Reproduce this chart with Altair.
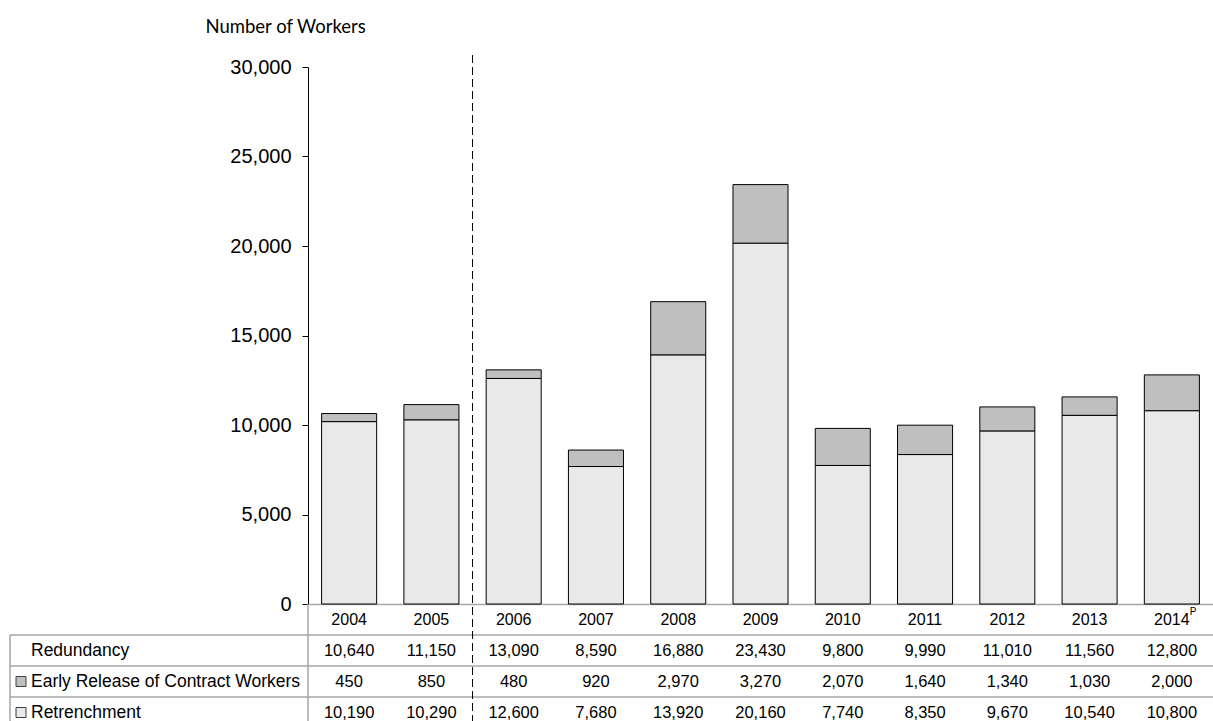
import altair as alt
import pandas as pd

years = ["2004", "2005", "2006", "2007", "2008", "2009", "2010", "2011", "2012", "2013", "2014"]
redundancy = [10640, 11150, 13090, 8590, 16880, 23430, 9800, 9990, 11010, 11560, 12800]
early_release = [450, 850, 480, 920, 2970, 3270, 2070, 1640, 1340, 1030, 2000]
retrenchment = [10190, 10290, 12600, 7680, 13920, 20160, 7740, 8350, 9670, 10540, 10800]
break_before_year = "2006"  # dashed separator sits between 2005 and 2006

ROW_YEAR = "Year"
ROW_RED = "Redundancy"
ROW_EARLY = "Early Release of Contract Workers"
ROW_RET = "Retrenchment"
row_keys = [ROW_YEAR, ROW_RED, ROW_EARLY, ROW_RET]

W, H = 905, 537
FONT = "Liberation Sans"

# ---- data frames ----
bars_df = pd.DataFrame(
    [{"year": y, "type": ROW_RET, "value": r, "order": 0} for y, r in zip(years, retrenchment)]
    + [{"year": y, "type": ROW_EARLY, "value": e, "order": 1} for y, e in zip(years, early_release)]
)

cells_df = pd.DataFrame(
    [{"year": y, "row": ROW_RED, "value": v} for y, v in zip(years, redundancy)]
    + [{"year": y, "row": ROW_EARLY, "value": v} for y, v in zip(years, early_release)]
    + [{"year": y, "row": ROW_RET, "value": v} for y, v in zip(years, retrenchment)]
)
year_df = pd.DataFrame({"year": years, "row": ROW_YEAR})
sup_df = pd.DataFrame({"year": [years[-1]], "row": [ROW_YEAR], "txt": ["P"]})
rowlab_df = pd.DataFrame({"row": [ROW_RED, ROW_EARLY, ROW_RET]})
legend_df = pd.DataFrame({"row": [ROW_EARLY, ROW_RET], "type": [ROW_EARLY, ROW_RET]})
hline_df = pd.DataFrame({"row": [ROW_RED, ROW_EARLY, ROW_RET]})
dash_df = pd.DataFrame({"pos": [years.index(break_before_year)]})

fill_scale = alt.Scale(domain=[ROW_EARLY, ROW_RET], range=["#bfbfbf", "#e9e9e9"])


def x_scale():
    return alt.Scale(domain=years, paddingInner=0.331, paddingOuter=0.1655)


def row_scale():
    return alt.Scale(type="band", domain=row_keys, range=[H, H + 124], paddingInner=0, paddingOuter=0)


def XY(axis=None):
    return alt.X("year:N", scale=x_scale(), axis=axis)


def YR(**kw):
    return alt.Y("row:N", scale=row_scale(), axis=None, **kw)


bars = alt.Chart(bars_df).mark_bar(stroke="black", strokeWidth=1).encode(
    x=XY(alt.Axis(labels=False, ticks=False, title=None, grid=False,
                  domainColor="#a6a6a6", domainWidth=1.5)),
    y=alt.Y(
        "value:Q",
        stack="zero",
        scale=alt.Scale(domain=[0, 30000], nice=False),
        axis=alt.Axis(
            values=[0, 5000, 10000, 15000, 20000, 25000, 30000],
            format=",.0f",
            grid=False,
            tickSize=6,
            tickColor="black",
            domainColor="black",
            labelFont=FONT,
            labelFontSize=20,
            labelColor="black",
            labelPadding=11,
            title="Number of Workers",
            titleAngle=0,
            titleAlign="left",
            titleBaseline="middle",
            titleX=-103,
            titleY=-41,
            titleFont="Lato",
            titleFontSize=18.5,
            titleFontWeight="normal",
            titleColor="black",
        ),
    ),
    fill=alt.Fill("type:N", scale=fill_scale, legend=None),
    order=alt.Order("order:Q"),
)

cells = alt.Chart(cells_df).mark_text(font=FONT, fontSize=16.5, color="black", fill="black").encode(
    x=XY(),
    y=YR(),
    text=alt.Text("value:Q", format=",.0f"),
)

year_text = alt.Chart(year_df).mark_text(font=FONT, fontSize=16, color="black", fill="black").encode(
    x=XY(),
    y=YR(),
    text="year:N",
)

sup_text = alt.Chart(sup_df).mark_text(font=FONT, fontSize=10, color="black", fill="black",
                                       align="left", dx=18, dy=-8).encode(
    x=XY(),
    y=YR(),
    text="txt:N",
)

row_labels = alt.Chart(rowlab_df).mark_text(font=FONT, fontSize=17.5, color="black", fill="black",
                                            align="left").encode(
    x=alt.value(-277),
    y=YR(),
    text="row:N",
)

legend_sq = alt.Chart(legend_df).mark_point(shape="square", size=100, filled=True, stroke="#404040",
                                             strokeWidth=1, opacity=1).encode(
    x=alt.value(-287),
    y=YR(),
    fill=alt.Fill("type:N", scale=fill_scale, legend=None),
)

hlines = alt.Chart(hline_df).mark_rule(color="#a6a6a6", strokeWidth=1.5).encode(
    x=alt.value(-298),
    x2=alt.value(W),
    y=YR(bandPosition=0),
)

left_border = alt.Chart(pd.DataFrame({"row": [ROW_RED]})).mark_rule(color="#a6a6a6", strokeWidth=1.5).encode(
    x=alt.value(-298),
    y=YR(bandPosition=0),
    y2=alt.value(H + 130),
)

mid_border = alt.Chart(pd.DataFrame({"row": [ROW_YEAR]})).mark_rule(color="#a6a6a6", strokeWidth=1.5).encode(
    x=alt.value(0),
    y=YR(bandPosition=0),
    y2=alt.value(H + 130),
)

dash = alt.Chart(dash_df).mark_rule(color="black", strokeWidth=1, strokeDash=[8, 4]).encode(
    x=alt.X("pos:Q", scale=alt.Scale(domain=[0, len(years)], nice=False, zero=False), axis=None),
    y=alt.value(-12),
    y2=alt.value(H + 130),
)

chart = alt.layer(
    hlines, left_border, mid_border, bars, dash, cells, year_text, sup_text, row_labels, legend_sq
).resolve_scale(y="independent", x="independent").properties(
    width=W,
    height=H,
    background="white",
    autosize=alt.AutoSizeParams(type="none"),
    padding={"left": 308, "top": 67, "right": 0, "bottom": 117},
).configure_view(stroke=None).configure_axis(grid=False)

chart.save("out.html", embed_options={"renderer": "svg", "actions": False})
